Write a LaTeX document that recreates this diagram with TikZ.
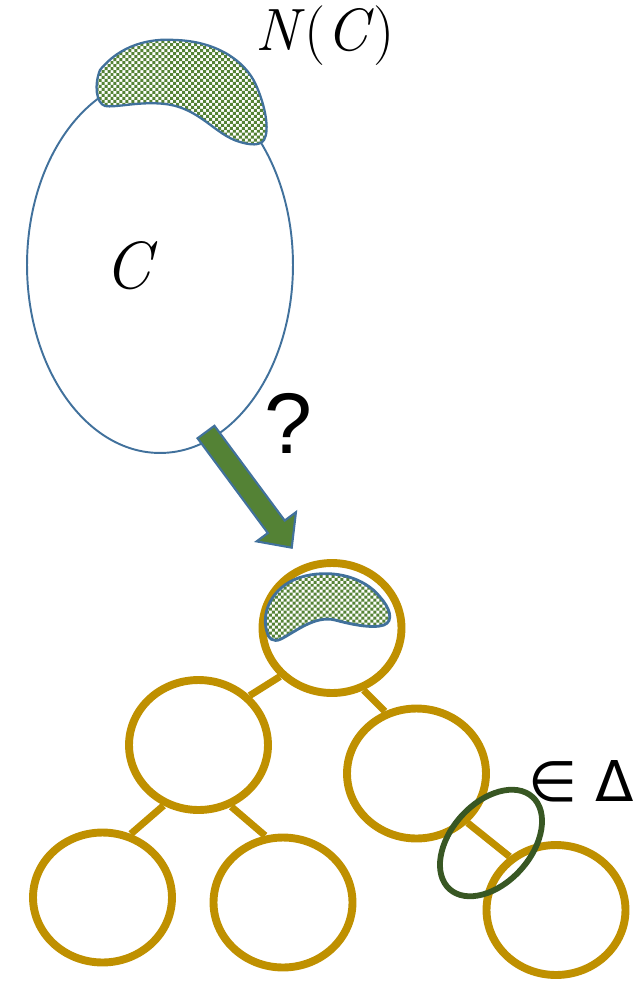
\documentclass[tikz,border=0pt]{standalone}
\usepackage{xcolor}
\usepackage{tikz}
\usepackage{fontspec}
\usetikzlibrary{shapes.geometric, patterns, positioning}
\newfontfamily\arialsans{Liberation Sans}
\newfontfamily\dejavusans{DejaVu Sans}
\definecolor{treegold}{RGB}{191,144,0}
\definecolor{setblue}{RGB}{65,113,156}
\definecolor{arrowgreen}{RGB}{84,130,53}
\definecolor{bagdark}{RGB}{56,87,35}
\pgfdeclarepatternformonly{finecheck}{\pgfqpoint{-0.1pt}{-0.1pt}}{\pgfqpoint{3.5pt}{3.5pt}}{\pgfqpoint{3.4pt}{3.4pt}}{%
    \pgfpathrectangle{\pgfqpoint{0pt}{0pt}}{\pgfqpoint{1.7pt}{1.7pt}}%
    \pgfpathrectangle{\pgfqpoint{1.7pt}{1.7pt}}{\pgfqpoint{1.7pt}{1.7pt}}%
    \pgfusepath{fill}}

\begin{document}
\begin{tikzpicture}[x=0.02cm, y=-0.02cm,
        treenode/.style = {ellipse, draw=treegold, line width=4.5pt, minimum width=2.78cm, minimum height=2.6cm, inner sep=0pt},
        treeedge/.style = {draw=treegold, line width=4pt},
        setnode/.style = {ellipse, draw=setblue, line width=1.1pt, minimum width=5.32cm, minimum height=7.52cm, inner sep=0pt},
        nbhd/.style = {draw=setblue, line width=1.3pt, preaction={fill=white}, pattern=finecheck, pattern color=arrowgreen},
        bagnode/.style = {ellipse, draw=bagdark, line width=3.3pt, minimum width=2.48cm, minimum height=1.6cm, inner sep=0pt},
        arrowbody/.style = {fill=arrowgreen, draw=setblue, line width=1.2pt, line join=miter}
    ]
    \useasboundingbox (0,0) rectangle (641,981);

    \node [setnode] (cset) at (160,265) {};
    \path[nbhd] (100,70) .. controls (120,45) and (150,38) .. (175,40)
        .. controls (215,41) and (245,60) .. (256,85)
        .. controls (265,105) and (270,130) .. (264,140)
        .. controls (260,146) and (250,145) .. (240,142)
        .. controls (215,135) and (200,108) .. (165,104)
        .. controls (140,101) and (115,108) .. (105,106)
        .. controls (96,103) and (94,85) .. (100,70) -- cycle;
    \node (nc) at (325,36) {\fontsize{34}{40}\selectfont\textit{N}(\textit{C})};
    \node (clabel) at (131,266) {\fontsize{38}{44}\selectfont\textit{C}};

    \begin{scope}[shift={(206,432)}, rotate=-53.45]
        \path[arrowbody] (0,-10.5) -- (118,-10.5) -- (118,-24.5) -- (144,0)
            -- (118,24.5) -- (118,10.5) -- (0,10.5) -- cycle;
    \end{scope}
    \node (ask) at (288,423) {\fontsize{49}{56}\selectfont\arialsans ?};

    \node [treenode] (root) at (332,628) {};
    \node [treenode] (ml) at (198.5,745) {};
    \node [treenode] (mr) at (416.5,773.5) {};
    \node [treenode] (bl) at (102.5,897.5) {};
    \node [treenode] (bm) at (283,902.5) {};
    \node [treenode] (br) at (556,910) {};

    \draw[treeedge] (root.223) -- (ml.44);
    \draw[treeedge] (root.-63) -- (mr.117);
    \draw[treeedge] (ml.-120) -- (bl.66);
    \draw[treeedge] (ml.-62) -- (bm.105);
    \draw[treeedge] (mr.-44) -- (br.131);

    \path[nbhd, line width=1.6pt] (267,632) .. controls (260,610) and (275,583) .. (305,576)
        .. controls (335,569) and (365,578) .. (380,597)
        .. controls (390,608) and (394,621) .. (384,625)
        .. controls (372,629) and (350,624) .. (335,620)
        .. controls (315,615) and (295,632) .. (281,639)
        .. controls (273,643) and (268,638) .. (267,632) -- cycle;

    \node [bagnode, rotate=48] (bag) at (491,843) {};
    \node (indelta) at (581,781) {\fontsize{32}{38}\selectfont\dejavusans ∈ Δ};
\end{tikzpicture}
\end{document}
